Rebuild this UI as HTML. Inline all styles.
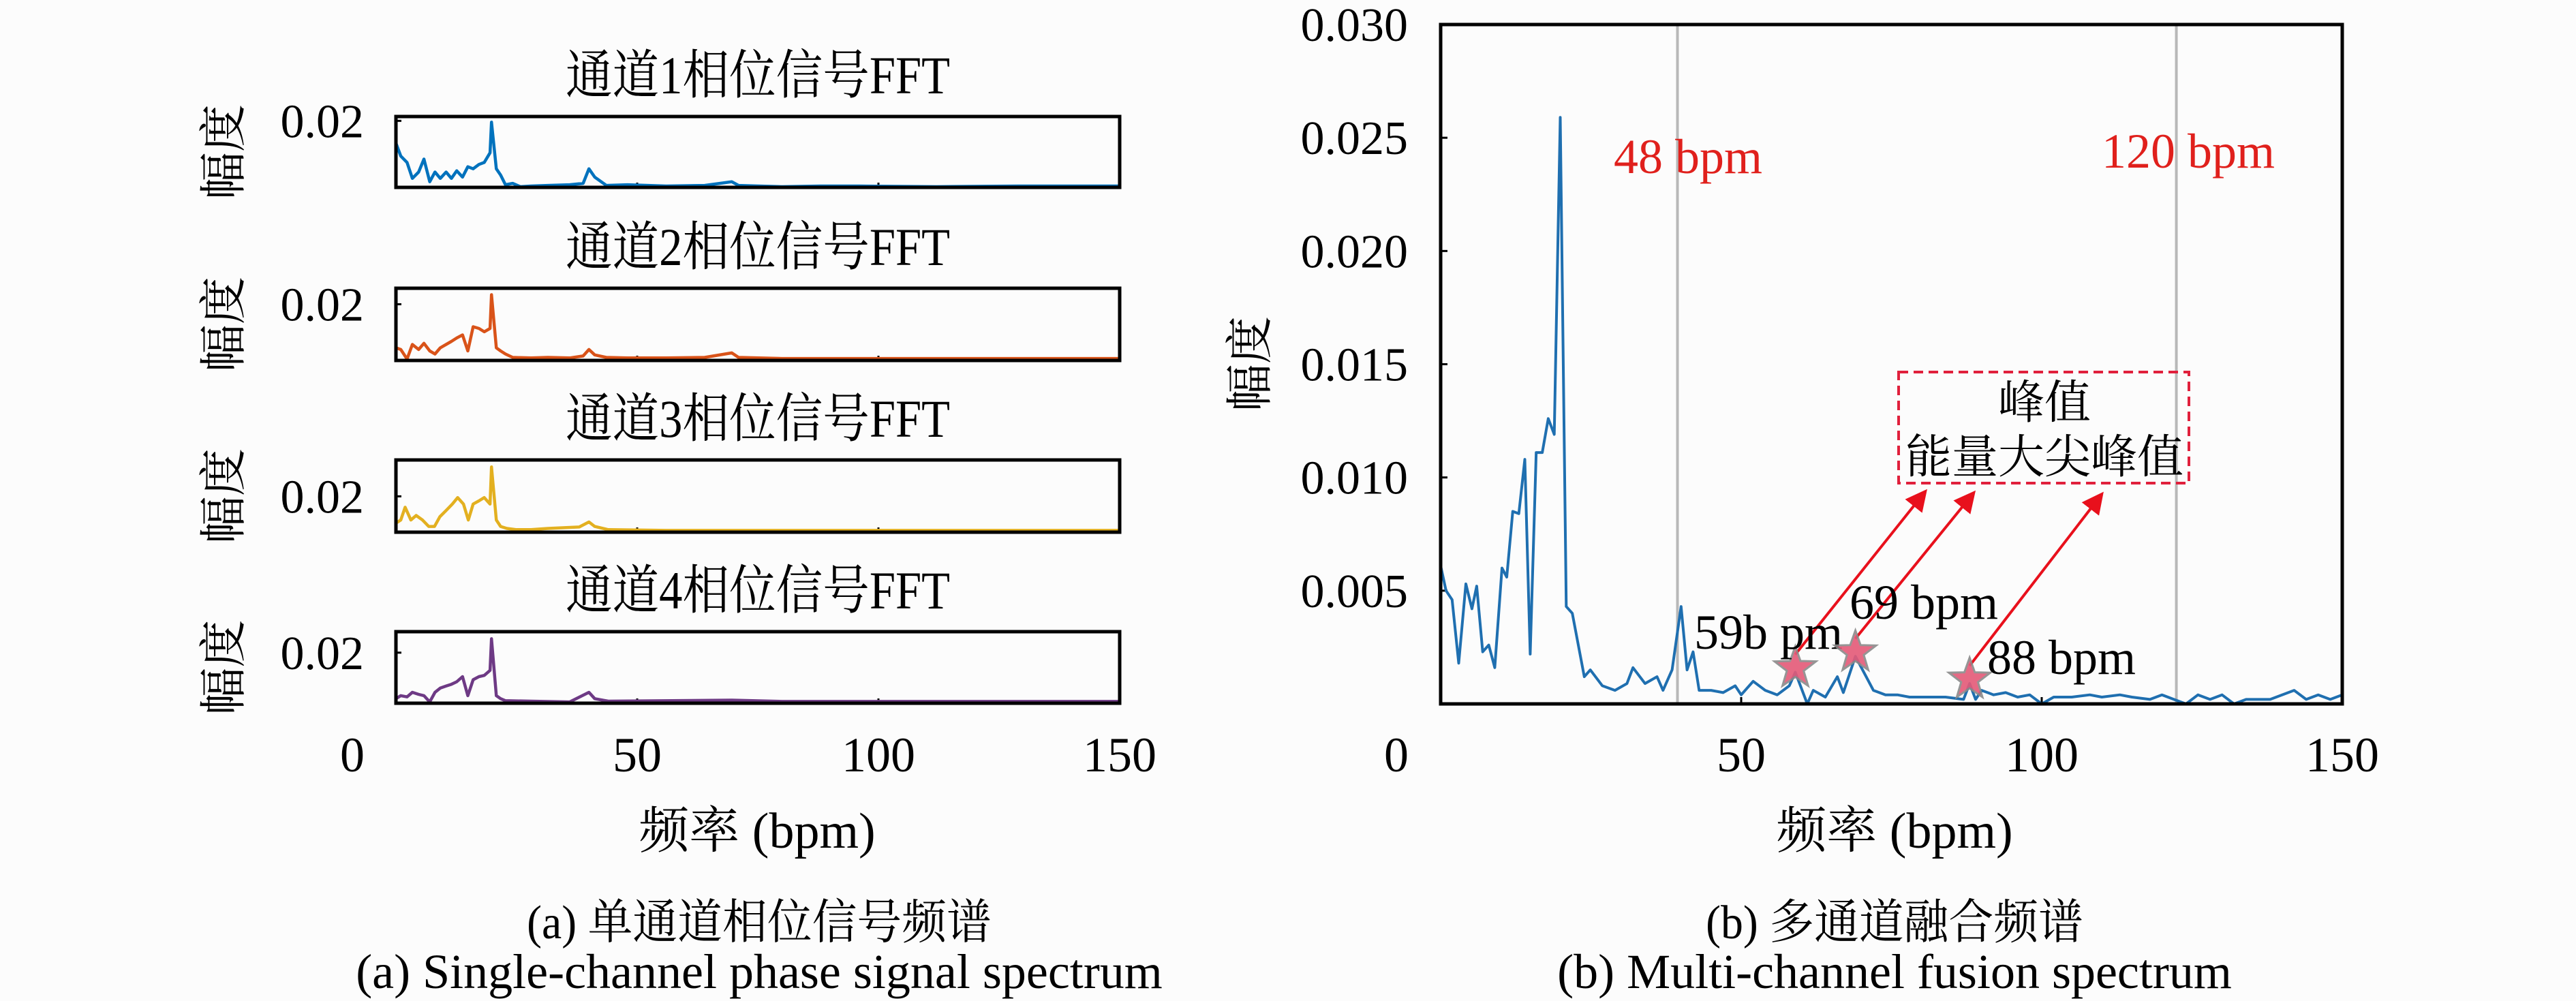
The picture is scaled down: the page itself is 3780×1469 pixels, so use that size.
<!DOCTYPE html>
<html><head><meta charset="utf-8"><style>
html,body{margin:0;padding:0;background:#fcfcfc;}
svg{display:block;}
text{font-family:"Liberation Serif","Noto Serif CJK SC",serif;fill:#000;}
</style></head><body>
<svg id="fig" width="3780" height="1469" viewBox="0 0 3780 1469" xmlns="http://www.w3.org/2000/svg" font-family="'Liberation Serif','Noto Serif CJK SC',serif">
<rect x="0" y="0" width="3780" height="1469" fill="#fcfcfc"/>
<g id="left"></g>
<g id="right"></g>
<text class="sq" data-sq="0.94" x="1114" y="1377" font-size="70" text-anchor="middle">(a) 单通道相位信号频谱</text>
<text x="1114" y="1450" font-size="72" text-anchor="middle">(a) Single-channel phase signal spectrum</text>
<text class="sq" data-sq="0.94" x="2780" y="1377" font-size="70" text-anchor="middle">(b) 多通道融合频谱</text>
<text x="2780" y="1450" font-size="72" text-anchor="middle">(b) Multi-channel fusion spectrum</text>
</svg>
<script>
const NS="http://www.w3.org/2000/svg";
// ---- left panels data ----
const ch1X=[0,1,2.3,3.4,4.7,5.8,7,8.1,9.2,10.4,11.5,12.6,13.8,14.9,16,17.2,18.3,19.5,19.8,20.8,21.7,22.7,24.2,25.8,28,31.5,36,38.8,40,41.2,43.6,48,56,64,69.6,71,80,88,96,112,129,150];
const ch1Y=[0.0133,0.0094,0.0075,0.0027,0.0046,0.0085,0.0017,0.0046,0.0027,0.0046,0.0027,0.005,0.0031,0.0062,0.0056,0.0069,0.0075,0.0104,0.0196,0.0056,0.0037,0.0008,0.0012,0.0002,0.0004,0.0006,0.0008,0.0012,0.0056,0.0031,0.0006,0.0008,0.0004,0.0006,0.0017,0.0006,0.0002,0.0004,0.0004,0.0002,0.0004,0.0004];
const ch2X=[0,1,2.3,3.4,4.7,5.8,7,8.1,9.2,10.4,11.5,12.6,13.8,14.9,16,17.2,18.3,19.5,19.8,20.8,21.7,22.7,24.2,28,31.5,36,38.8,40,41.2,43.6,48,56,64,69.6,71,80,96,112,129,150];
const ch2Y=[0.0045,0.0039,0.0005,0.0057,0.0039,0.0061,0.0034,0.0023,0.0045,0.0057,0.0068,0.008,0.0091,0.0034,0.012,0.0114,0.0102,0.0114,0.0234,0.0045,0.0034,0.0023,0.0011,0.0009,0.0011,0.0009,0.0016,0.0039,0.002,0.0011,0.0009,0.0009,0.0011,0.0027,0.0011,0.0007,0.0007,0.0007,0.0007,0.0007];
const ch3X=[0,1,1.9,3.1,4.2,5.5,6.8,8,9.1,10.4,11.7,12.8,14,15,16,17.2,18.3,19.5,19.8,20.8,21.7,23,25,28,31.5,38,40,41.2,44,56,80,112,150];
const ch3Y=[0.005,0.0068,0.0139,0.0068,0.0093,0.0068,0.0032,0.0032,0.0086,0.0121,0.0157,0.0193,0.0157,0.0068,0.0157,0.0175,0.0193,0.0157,0.0364,0.0068,0.0032,0.0021,0.0014,0.0014,0.0021,0.0029,0.0057,0.0032,0.0014,0.001,0.001,0.001,0.001];
const ch4X=[0,1,2.3,3.4,4.7,5.8,7,8.1,9.2,10.4,11.5,12.6,13.8,14.9,16,17.2,18.3,19.5,19.8,20.8,21.7,22.7,28,36,40,41.2,44,69.6,80,112,150];
const ch4Y=[0.0018,0.003,0.0025,0.0043,0.0035,0.003,0.0005,0.0043,0.006,0.0068,0.0075,0.0085,0.0105,0.003,0.0093,0.0105,0.011,0.013,0.0255,0.003,0.0018,0.001,0.0008,0.0005,0.0043,0.0018,0.0008,0.0012,0.0007,0.0007,0.0007];
const panelYMax=[0.0213,0.0257,0.0403,0.0283];
const leftXTicks=[50,100,150];
// ---- right chart data ----
const fuseX=[0,0.9,1.9,3,4.2,5.2,6,7,8,9,10.2,11,12,13,14,14.9,15.9,16.9,17.9,18.9,19.9,20.9,21.9,22.9,23.9,24.9,26.9,29,31,32,34,36,37,38.5,40,41,42,43,45,47,49,50,52,54,56,58,59,60,61,62,64,66,67,68,69,70,72,74,76,78,80,84,87,88,89,90,92,94,96,98,100,102,105,108,110,113,115,118,120,122,124,126,128,130,132,134,138,142,144,146,148,150];
const fuseY=[0.0061,0.005,0.0046,0.0018,0.0053,0.0042,0.0052,0.0023,0.0026,0.0016,0.006,0.0056,0.0085,0.0084,0.0108,0.0022,0.0111,0.0111,0.0126,0.0119,0.0259,0.0043,0.004,0.0026,0.0012,0.0015,0.0008,0.0006,0.0009,0.0016,0.0009,0.0012,0.0006,0.0015,0.0043,0.0015,0.0023,0.0006,0.0006,0.0005,0.0008,0.0004,0.001,0.0006,0.0004,0.0008,0.0014,0.0007,0.0,0.0006,0.0003,0.0012,0.0005,0.0013,0.0021,0.0016,0.0006,0.0004,0.0004,0.0003,0.0003,0.0003,0.0002,0.0009,0.0002,0.0006,0.0004,0.0005,0.0003,0.0004,0.0,0.0003,0.0003,0.0004,0.0003,0.0004,0.0003,0.0002,0.0004,0.0002,0.0,0.0004,0.0002,0.0004,0.0,0.0002,0.0002,0.0006,0.0002,0.0004,0.0002,0.0004];
const rightYTicks=[0,0.005,0.01,0.015,0.02,0.025,0.03];
const rightYTickLabels=["","0.005","0.010","0.015","0.020","0.025","0.030"];
const rightXTicks=[50,100,150];
const refLines=[39.4,122.4];
const refLabels=["48 bpm","120 bpm"];
const peakX=[59,69,88];
const peakY=[0.0014,0.0021,0.0009];
const peakLabels=["59b pm","69 bpm","88 bpm"];

function el(tag,attrs,parent){const e=document.createElementNS(NS,tag);for(const k in attrs)e.setAttribute(k,attrs[k]);parent.appendChild(e);return e;}

// left
const L=document.getElementById('left');
const lx0=581,lx1=1643;
const lxs=v=>lx0+(v/150)*(lx1-lx0);
const panels=[{top:171,bot:275,X:ch1X,Y:ch1Y,c:"#0072BD"},{top:423,bot:529,X:ch2X,Y:ch2Y,c:"#D95319"},{top:675,bot:781,X:ch3X,Y:ch3Y,c:"#E3B020"},{top:927,bot:1032,X:ch4X,Y:ch4Y,c:"#6E3A85"}];
panels.forEach((p,i)=>{
  const g=el('g',{},L);
  
  
  const ys=v=>p.bot-(v/panelYMax[i])*(p.bot-p.top);
  const t=el('text',{x:1112,y:p.top-34,'font-size':78,'text-anchor':'middle',textLength:564,lengthAdjust:'spacingAndGlyphs'},g);
  t.textContent='通道'+(i+1)+'相位信号FFT';
  
  
  const yl=el('text',{x:0,y:0,'font-size':70,'text-anchor':'middle',transform:`translate(352,${(p.top+p.bot)/2}) rotate(-90)`},g);
  yl.textContent='幅度';
  
  
  const tl=el('text',{x:534,y:ys(0.02)+24,'font-size':70,'text-anchor':'end'},g);
  tl.textContent='0.02';
  
  
  const tk=el('line',{x1:lx0,x2:lx0+8,y1:ys(0.02),y2:ys(0.02),stroke:'#000','stroke-width':3},g);
  
  
  leftXTicks.forEach(v=>{const m=el('line',{x1:lxs(v),x2:lxs(v),y1:p.bot,y2:p.bot-7,stroke:'#000','stroke-width':3},g);
    
    });
  const pts=p.X.map((x,j)=>lxs(x).toFixed(1)+','+ys(p.Y[j]).toFixed(1)).join(' ');
  const ln=el('polyline',{points:pts,fill:'none',stroke:p.c,'stroke-width':4.5,'stroke-linejoin':'round'},g);
  
  
  const bx=el('rect',{x:lx0,y:p.top,width:lx1-lx0,height:p.bot-p.top,fill:'none',stroke:'#000','stroke-width':5},g);
  
  
});
[[0,517],[50,lxs(50)],[100,lxs(100)],[150,lxs(150)]].forEach(([v,x])=>{
  const t=el('text',{x:x,y:1132,'font-size':72,'text-anchor':'middle'},L);
  t.textContent=String(v);
  
  
});
const lxl=el('text',{x:1111,y:1244,'font-size':74,'text-anchor':'middle'},L);
lxl.textContent='频率 (bpm)';



// right
const R=document.getElementById('right');
const rx0=2114,rx1=3437,ry0=36,ry1=1033;
const rxs=v=>rx0+(v/150)*(rx1-rx0);
const rys=v=>ry1-(v/0.03)*(ry1-ry0);
refLines.forEach((v,i)=>{
  const l=el('line',{x1:rxs(v),x2:rxs(v),y1:ry0,y2:ry1,stroke:'#b8b8b8','stroke-width':4},R);
  
  
});
const rl1=el('text',{x:2368,y:254,'font-size':72},R);rl1.textContent=refLabels[0];rl1.style.fill='#e0201c';


const rl2=el('text',{x:3084,y:246,'font-size':72},R);rl2.textContent=refLabels[1];rl2.style.fill='#e0201c';


rightYTicks.forEach((v,i)=>{
  const m=el('line',{x1:rx0,x2:rx0+10,y1:rys(v),y2:rys(v),stroke:'#000','stroke-width':3},R);
  
  
  if(rightYTickLabels[i]){const t=el('text',{x:2066,y:rys(v)+24,'font-size':70,'text-anchor':'end'},R);t.textContent=rightYTickLabels[i];
  
  }
});
rightXTicks.forEach(v=>{const m=el('line',{x1:rxs(v),x2:rxs(v),y1:ry1,y2:ry1-10,stroke:'#000','stroke-width':3},R);
  
  });
[[0,2049],[50,rxs(50)],[100,rxs(100)],[150,rxs(150)]].forEach(([v,x])=>{
  const t=el('text',{x:x,y:1132,'font-size':72,'text-anchor':'middle'},R);t.textContent=String(v);
  
  
});
const fpts=fuseX.map((x,j)=>rxs(x).toFixed(1)+','+rys(fuseY[j]).toFixed(1)).join(' ');
const fl=el('polyline',{points:fpts,fill:'none',stroke:'#1f6fb0','stroke-width':4,'stroke-linejoin':'round'},R);


const rb=el('rect',{x:rx0,y:ry0,width:rx1-rx0,height:ry1-ry0,fill:'none',stroke:'#000','stroke-width':5},R);


const ryl=el('text',{x:0,y:0,'font-size':70,'text-anchor':'middle',transform:'translate(1858,534) rotate(-90)'},R);ryl.textContent='幅度';


const rxl=el('text',{x:2780,y:1244,'font-size':74,'text-anchor':'middle'},R);rxl.textContent='频率 (bpm)';


// annotation box
const ab=el('rect',{x:2786,y:546,width:426,height:163,fill:'none',stroke:'#e0203c','stroke-width':4,'stroke-dasharray':'14,8'},R);


const a1=el('text',{x:3000,y:614,'font-size':68,'text-anchor':'middle'},R);a1.textContent='峰值';


const a2=el('text',{x:3000,y:694,'font-size':68,'text-anchor':'middle'},R);a2.textContent='能量大尖峰值';


const defs=el('defs',{},R);
const mk=el('marker',{id:'ah',markerWidth:8,markerHeight:8,refX:6,refY:4,orient:'auto',markerUnits:'strokeWidth'},defs);
el('path',{d:'M0,0 L8,4 L0,8 z',fill:'#e8101c'},mk);
const arrowEnds=[[2823,724],[2894,726],[3082,728]];
const labelPos=[[2486,952],[2714,908],[2916,989]];
peakX.forEach((x,i)=>{
  const cx=rxs(x),cy=rys(peakY[i])-6;
  const ar=el('line',{x1:cx,y1:cy-20,x2:arrowEnds[i][0],y2:arrowEnds[i][1],stroke:'#e8101c','stroke-width':4,'marker-end':'url(#ah)'},R);
  
  
  let d='';for(let k=0;k<10;k++){const r=k%2?13:32,a=-Math.PI/2+k*Math.PI/5;d+=(k?'L':'M')+(cx+r*Math.cos(a)).toFixed(1)+','+(cy+r*Math.sin(a)).toFixed(1);}
  const st=el('path',{d:d+'Z',fill:'#e45a78',stroke:'#8a8a8a','stroke-width':3,opacity:0.9},R);
  
  
  const t=el('text',{x:labelPos[i][0],y:labelPos[i][1],'font-size':72},R);t.textContent=peakLabels[i];
  
  
});
document.querySelectorAll('text.sq').forEach(t=>{
  const w=t.getComputedTextLength()*parseFloat(t.getAttribute('data-sq'));
  t.setAttribute('textLength',w.toFixed(1));
  t.setAttribute('lengthAdjust','spacingAndGlyphs');
});
</script>
</body></html>
